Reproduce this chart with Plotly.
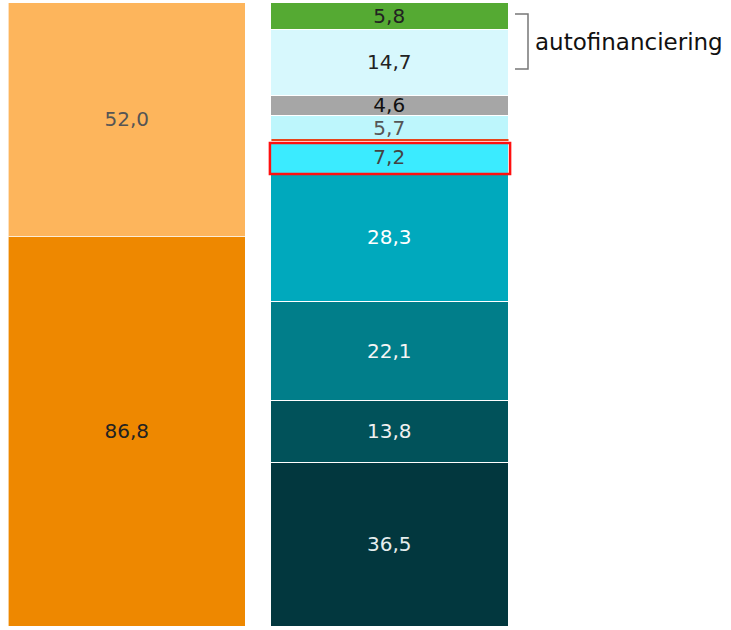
import plotly.graph_objects as go
import numpy as np

# Left bar (bottom -> top)
left_values = [86.8, 52.0]
left_colors = ["#EE8800", "#FDB55C"]
left_text_colors = ["#222222", "#555555"]

# Right bar (bottom -> top)
right_values = [36.5, 13.8, 22.1, 28.3, 7.2, 5.7, 4.6, 14.7, 5.8]
right_colors = ["#02373E", "#01525A", "#017E8A", "#00A9BD", "#3BEBFF",
                "#BDF6FC", "#A6A6A6", "#D7F8FD", "#55AA33"]
right_text_colors = ["#E6EEEE", "#F0F0F0", "#F5F5F5", "#FFFFFF", "#444444",
                     "#555555", "#111111", "#222222", "#222222"]

bracket_label = "autofinanciering"
highlight_index = 4  # the 7,2 segment

FONT = "DejaVu Sans"
BAR_W = 0.903


def fmt(v):
    return f"{v:.1f}".replace(".", ",")


fig = go.Figure()

for v, c, tc in zip(left_values, left_colors, left_text_colors):
    fig.add_trace(go.Bar(
        x=[0], y=[v], width=BAR_W, marker=dict(color=c, line=dict(color="rgba(255,255,255,0.6)", width=1.5)),
        text=[fmt(v)], textposition="inside", insidetextanchor="middle",
        textfont=dict(family=FONT, size=20, color=tc), constraintext="none",
        textangle=0, hoverinfo="skip", showlegend=False))

for v, c, tc in zip(right_values, right_colors, right_text_colors):
    fig.add_trace(go.Bar(
        x=[1], y=[v], width=BAR_W, marker=dict(color=c, line=dict(color="white", width=1.5)),
        text=[fmt(v)], textposition="inside", insidetextanchor="middle",
        textfont=dict(family=FONT, size=20, color=tc), constraintext="none",
        textangle=0, hoverinfo="skip", showlegend=False))

cum = np.cumsum([0] + right_values)
y_lo = cum[highlight_index]
y_hi = cum[highlight_index + 1]
total = max(sum(left_values), sum(right_values))

# red highlight box around 7,2
fig.add_shape(type="rect", xref="x", yref="y",
              x0=1 - BAR_W / 2 - 0.006, x1=1 + BAR_W / 2 + 0.006,
              y0=y_lo + 0.05, y1=y_hi - 0.25,
              line=dict(color="#FF1010", width=2.5), fillcolor="rgba(0,0,0,0)")
# thin orange-red line at bottom of 5,7 segment
fig.add_shape(type="line", xref="x", yref="y",
              x0=1 - BAR_W / 2, x1=1 + BAR_W / 2,
              y0=y_hi + 0.45, y1=y_hi + 0.45,
              line=dict(color="#E8441A", width=2))

# bracket for autofinanciering (paper coords)
W, H, T, B = 731, 630, 3, 3
def px(xp):
    return xp / W
def py(yp):
    return (H - B - yp) / (H - T - B)

fig.add_shape(type="path", xref="paper", yref="paper",
              path=f"M {px(515)},{py(14)} L {px(528)},{py(14)} L {px(528)},{py(69)} L {px(515)},{py(69)}",
              line=dict(color="#777777", width=1.5))
fig.add_annotation(xref="paper", yref="paper", x=px(533), y=py(42),
                   xanchor="left", yanchor="middle", showarrow=False,
                   text=bracket_label, font=dict(family=FONT, size=23, color="#111111"))

x_left = -127.5 / 262.5
x_right = (W - 127.5) / 262.5
fig.update_layout(
    width=W, height=H,
    margin=dict(l=0, r=0, t=T, b=B),
    barmode="stack", bargap=0,
    plot_bgcolor="white", paper_bgcolor="white",
    xaxis=dict(range=[x_left, x_right], visible=False, fixedrange=True),
    yaxis=dict(range=[0, total], visible=False, fixedrange=True),
    showlegend=False,
)

fig.write_html("out.html", config={"displayModeBar": False},
               post_script="document.body.style.margin='0';document.body.style.overflow='hidden';")
